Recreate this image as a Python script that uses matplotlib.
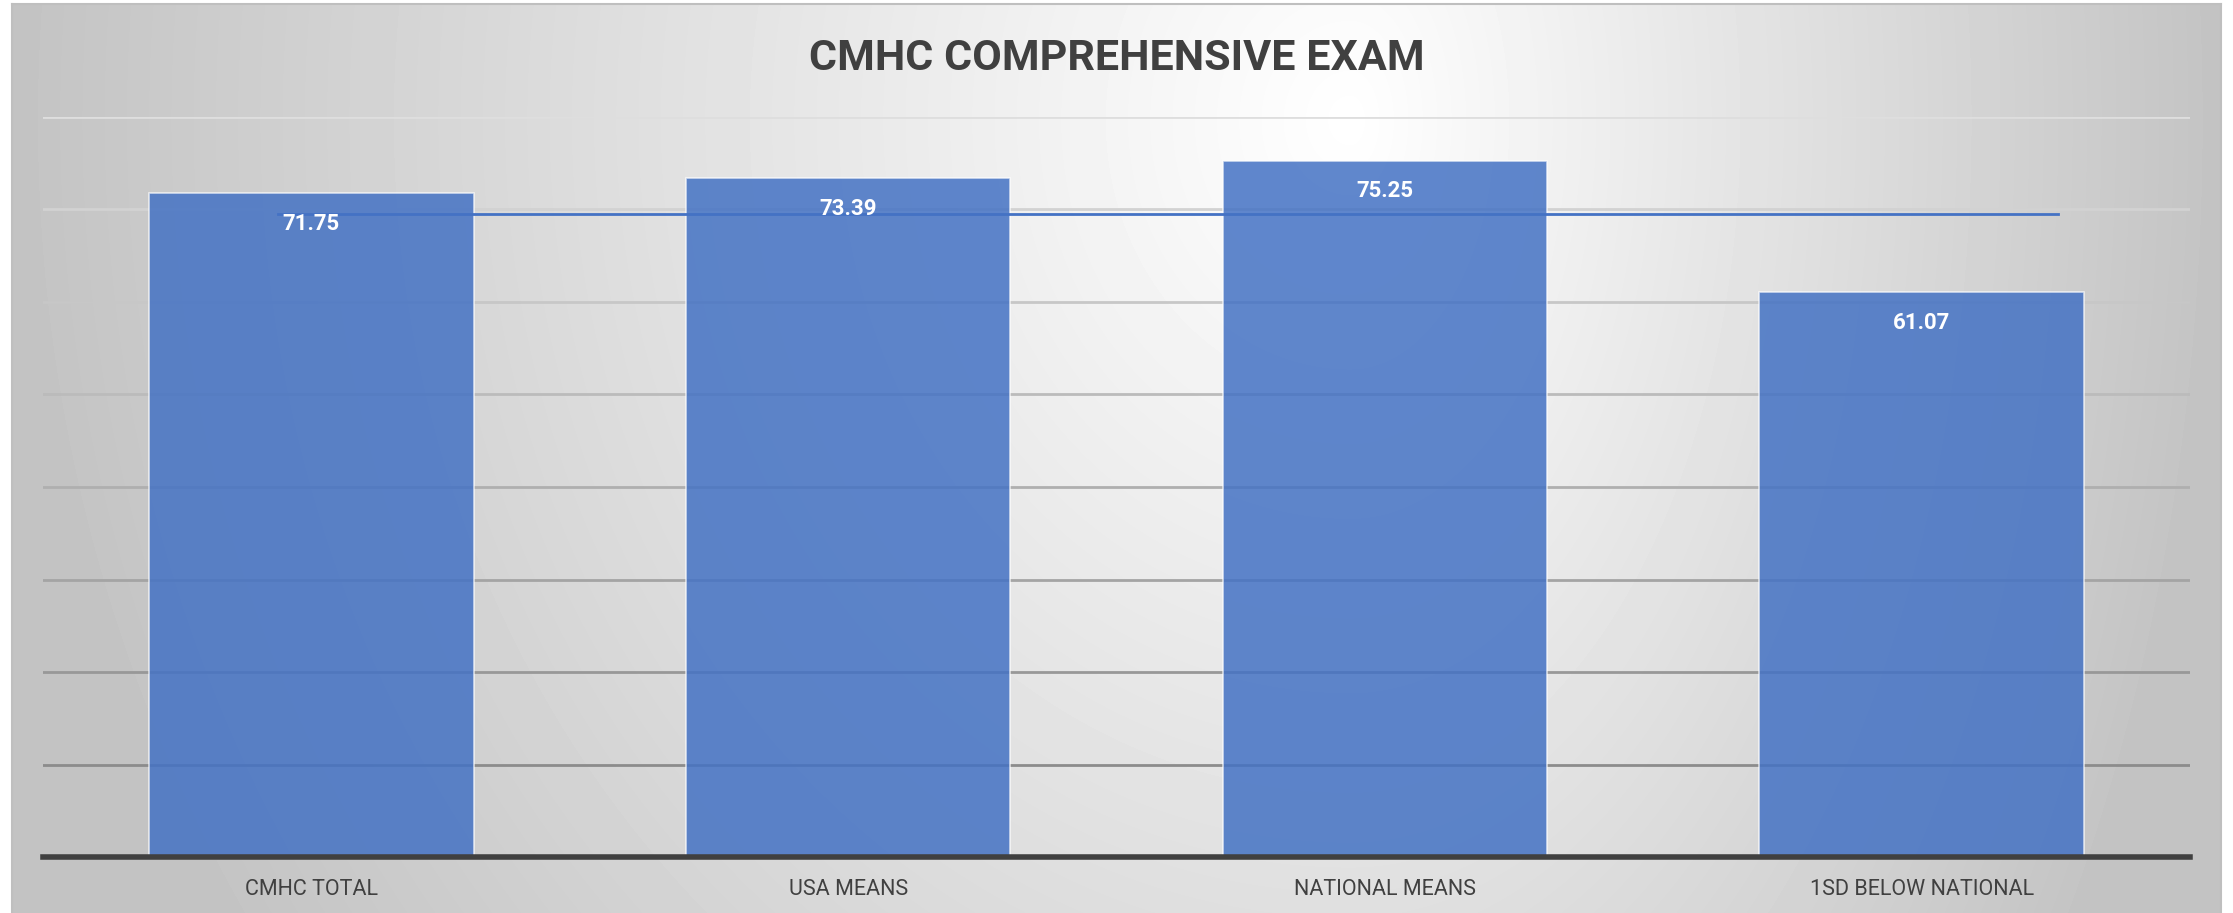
import numpy as np
import matplotlib
matplotlib.use("Agg")
import matplotlib.pyplot as plt

# data
categories = ["CMHC TOTAL", "USA MEANS", "NATIONAL MEANS", "1SD BELOW NATIONAL"]
scores = [71.75, 73.39, 75.25, 61.07]
ref_value = 69.5
title = "CMHC COMPREHENSIVE EXAM"

W, H = 2233, 913
fig = plt.figure(figsize=(W / 100, H / 100), dpi=100, facecolor="white")
plt.rcParams["font.family"] = ["Roboto", "DejaVu Sans"]

# background gradient (light centre, grey edges)
fx0, fx1, fy0 = 12, 2221, 4
bg = fig.add_axes([fx0 / W, 0, (fx1 - fx0) / W, (H - fy0) / H], zorder=0)
xx, yy = np.meshgrid(np.arange(fx0, fx1), np.arange(fy0, H))
cx, cy = 1350, 120
ax_x = np.where(xx < cx, 1340, 870)
r = np.sqrt(((xx - cx) / ax_x) ** 2 + ((yy - cy) / 1500) ** 2)
val = np.clip(255 - 60 * r, 195, 255) / 255
bg.imshow(val, cmap="gray", vmin=0, vmax=1, aspect="auto", interpolation="bilinear")
bg.set_xticks([])
bg.set_yticks([])
for s in ["top", "left", "right"]:
    bg.spines[s].set_color("#bfbfbf")
    bg.spines[s].set_linewidth(1.5)
bg.spines["bottom"].set_visible(False)

# main axes
ax = fig.add_axes([43 / W, 1 - 857 / H, (2190 - 43) / W, (857 - 117) / H], zorder=1)
ax.patch.set_alpha(0)
x = np.arange(len(categories))
ax.set_xlim(-0.5, len(categories) - 0.5)
ax.set_ylim(0, 80)

# gridlines, darker toward the bottom
for g in range(10, 81, 10):
    shade = 0.55 + 0.32 * (g - 10) / 70
    ax.axhline(g, color=str(shade), lw=2, zorder=1)

ax.bar(x, scores, width=0.605, color=(0.267, 0.447, 0.769, 0.85),
       edgecolor=(1, 1, 1, 0.7), linewidth=1.2, zorder=2)

ax.plot([-0.062, 3.254], [ref_value, ref_value], color="#4472C4", lw=2, zorder=3)

for i, v in enumerate(scores):
    ax.annotate(f"{v:.2f}", (i, v), xytext=(0, -22), textcoords="offset points",
                ha="center", va="center", color="white", fontsize=16,
                fontweight="bold", zorder=4)

for s in ["top", "left", "right"]:
    ax.spines[s].set_visible(False)
ax.spines["bottom"].set_color("#404040")
ax.spines["bottom"].set_linewidth(4)
ax.spines["bottom"].set_zorder(5)
ax.set_yticks([])
ax.set_xticks(x)
ax.set_xticklabels(categories, fontsize=15.5, color="#404040")
ax.tick_params(axis="x", length=0, pad=16)

fig.text(0.5, 1 - 59 / H, title, ha="center", va="center", fontsize=31,
         fontweight="bold", color="#404040")

fig.savefig("out.png", dpi=100, facecolor="white")
